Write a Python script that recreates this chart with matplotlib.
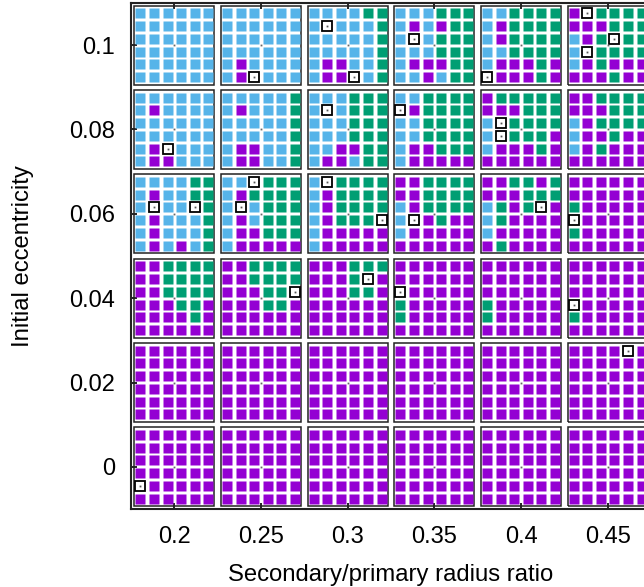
import matplotlib
matplotlib.use('Agg')
import matplotlib.pyplot as plt

# ---------------- data ----------------
ratios = [0.2, 0.25, 0.3, 0.35, 0.4, 0.45]
eccentricities = [0.1, 0.08, 0.06, 0.04, 0.02, 0.0]
xtick_values = [0.2, 0.25, 0.3, 0.35, 0.4, 0.45]
xtick_labels = ['0.2', '0.25', '0.3', '0.35', '0.4', '0.45']
ytick_values = [0.0, 0.02, 0.04, 0.06, 0.08, 0.1]
ytick_labels = ['0', '0.02', '0.04', '0.06', '0.08', '0.1']

# Outcome code of each sub-cell: P = purple, G = green, B = light blue, W = special (open)
# each string = one sub-row (top to bottom) across the 6 ratio blocks
outcomes_e010 = [
    "BBBBBB BBBBBB BBBBGG BBBGGG BBGGGG PWGGGG",
    "BBBBBB BBBBBB BWBBBG BPBPGG BPGGGG PPPGGG",
    "BBBBBB BBBBBB BBBBBG BWBGGG BPGGGG BPGWGG",
    "BBBBBB BBBBBB BBBBBG BBBGGG BBGGGG BWGGGG",
    "BBBBBB BPBBBB BPPBBG BPPPGG BPPPGP BPGPPP",
    "BBBBBB BPWBBB BPPWBG BBPBGG WPPPGP PPPGPP",
]
outcomes_e008 = [
    "BBBBBB BBBBBG BBBGGG BBGGGG PGGGGG PPGGGG",
    "BPBBBB BPBBBG BWBGGG WPGGGG PPPGGG PPPGGG",
    "BBBBBB BBBBBG BBBGGG BBGGGG BWGGGG BPGGGG",
    "BBBBBB BBBBBG BBBGGG BBGGGG BWGGGP BPPGPP",
    "BPWBBB BPPBBG BBPPGG BPPGGG BPPPGP BPGPPP",
    "BPPBBB BPPBBG BPPBGG BPPPPP PPPPPP PPPPPP",
]
outcomes_e006 = [
    "BBBBGG BBWGGG BWGGGG PPGGGG PPGGPG PPPPPP",
    "BPBBGG BPGGGG BPGGGG PPGGGG PPPGGG PPPPPP",
    "BWBBWG BWBGGG BPGGGG BPGGGG BGPGWP GPPPPP",
    "BPBBBG BPBGGG BPGGGW BWPGPP BGPPPP WPPPPP",
    "BPBBBG BPPGGG BPPPPP BPPPPP BPPPPP GPPPPP",
    "BPBPBG BPPPPP BPPPPP PPPPPP PGPPPP PPPPPP",
]
outcomes_e004 = [
    "PPGGGG PPGGGG PPPGGG PPPPPP PPPPPP PPPPPP",
    "PPGGGG PPGGGG PPPGWP PPPPPP PPPPPP PPPPPP",
    "PPGGGG PPPGGW PPPGGP WPPPPP PPPPPP PPPPPP",
    "PPPGGP PPPGGP PPPPPP GPPPPP GPPPPP WPPPPP",
    "PPPPGP PPPPPP PPPPPP GPPPPP GPPPPP GPPPPP",
    "PPPPPP PPPPPP PPPPPP PPPPPP PPPPPP PPPPPP",
]
outcomes_e002 = [
    "PPPPPP PPPPPP PPPPPP PPPPPP PPPPPP PPPPWP",
    "PPPPPP PPPPPP PPPPPP PPPPPP PPPPPP PPPPPP",
    "PPPPPP PPPPPP PPPPPP PPPPPP PPPPPP PPPPPP",
    "PPPPPP PPPPPP PPPPPP PPPPPP PPPPPP PPPPPP",
    "PPPPPP PPPPPP PPPPPP PPPPPP PPPPPP PPPPPP",
    "PPPPPP PPPPPP PPPPPP PPPPPP PPPPPP PPPPPP",
]
outcomes_e000 = [
    "PPPPPP PPPPPP PPPPPP PPPPPP PPPPPP PPPPPP",
    "PPPPPP PPPPPP PPPPPP PPPPPP PPPPPP PPPPPP",
    "PPPPPP PPPPPP PPPPPP PPPPPP PPPPPP PPPPPP",
    "PPPPPP PPPPPP PPPPPP PPPPPP PPPPPP PPPPPP",
    "WPPPPP PPPPPP PPPPPP PPPPPP PPPPPP PPPPPP",
    "PPPPPP PPPPPP PPPPPP PPPPPP PPPPPP PPPPPP",
]
outcome_rows = [outcomes_e010, outcomes_e008, outcomes_e006,
                outcomes_e004, outcomes_e002, outcomes_e000]

colors = {'P': '#9400d3', 'G': '#009e73', 'B': '#56b4e9'}

# ---------------- layout ----------------
W_PX, H_PX, DPI = 644, 587, 100
plt.rcParams['font.family'] = ['Liberation Sans', 'DejaVu Sans']
fig = plt.figure(figsize=(W_PX / DPI, H_PX / DPI), dpi=DPI)
ax = fig.add_axes([131 / W_PX, 1 - 509 / H_PX, (651 - 131) / W_PX, 506 / H_PX])
ax.set_xlim(0.175, 0.475)
ax.set_ylim(-0.01, 0.11)

dx, dy = 0.00788, 0.003007          # sub-cell spacing (data units)
hw, hh = 0.02308, 0.00937           # block half width / height

pts = {'P': ([], []), 'G': ([], []), 'B': ([], []), 'W': ([], [])}
for e, rows in zip(eccentricities, outcome_rows):
    for i, line in enumerate(rows):
        blocks = line.split()
        for r, blk in zip(ratios, blocks):
            for j, c in enumerate(blk):
                pts[c][0].append(r + dx * (j - 2.5))
                pts[c][1].append(e + dy * (2.5 - i))

msize = 7.3
for c in ['P', 'G', 'B']:
    ax.plot(pts[c][0], pts[c][1], ls='none', marker='s', ms=msize,
            mfc=colors[c], mec='none', zorder=3)
ax.plot(pts['W'][0], pts['W'][1], ls='none', marker='s', ms=6.5,
        mfc='white', mec='black', mew=1.3, zorder=4)
ax.plot(pts['W'][0], pts['W'][1], ls='none', marker='s', ms=1.3,
        mfc='#555555', mec='none', zorder=5)

# block frames and centre dots
for e in eccentricities:
    for r in ratios:
        ax.add_patch(plt.Rectangle((r - hw, e - hh), 2 * hw, 2 * hh, fill=False,
                                   ec='#222222', lw=1.1, zorder=2))
        ax.plot([r], [e], ls='none', marker='s', ms=1.3, mfc='#666666',
                mec='none', zorder=5)

ax.set_xticks(xtick_values)
ax.set_xticklabels(xtick_labels)
ax.set_yticks(ytick_values)
ax.set_yticklabels(ytick_labels)
ax.tick_params(direction='in', length=4, width=1.2, top=True, right=False,
               labelsize=17, colors='black')
ax.tick_params(axis='x', pad=12)
ax.tick_params(axis='y', pad=11.5)
for s in ['left', 'bottom', 'top']:
    ax.spines[s].set_linewidth(1.5)
    ax.spines[s].set_color('#222222')
ax.spines['right'].set_visible(False)

ax.set_xlabel('Secondary/primary radius ratio', fontsize=17.2, labelpad=11.5)
ax.set_ylabel('Initial eccentricity', fontsize=17.2, labelpad=25)

fig.savefig('out.png', dpi=DPI)
